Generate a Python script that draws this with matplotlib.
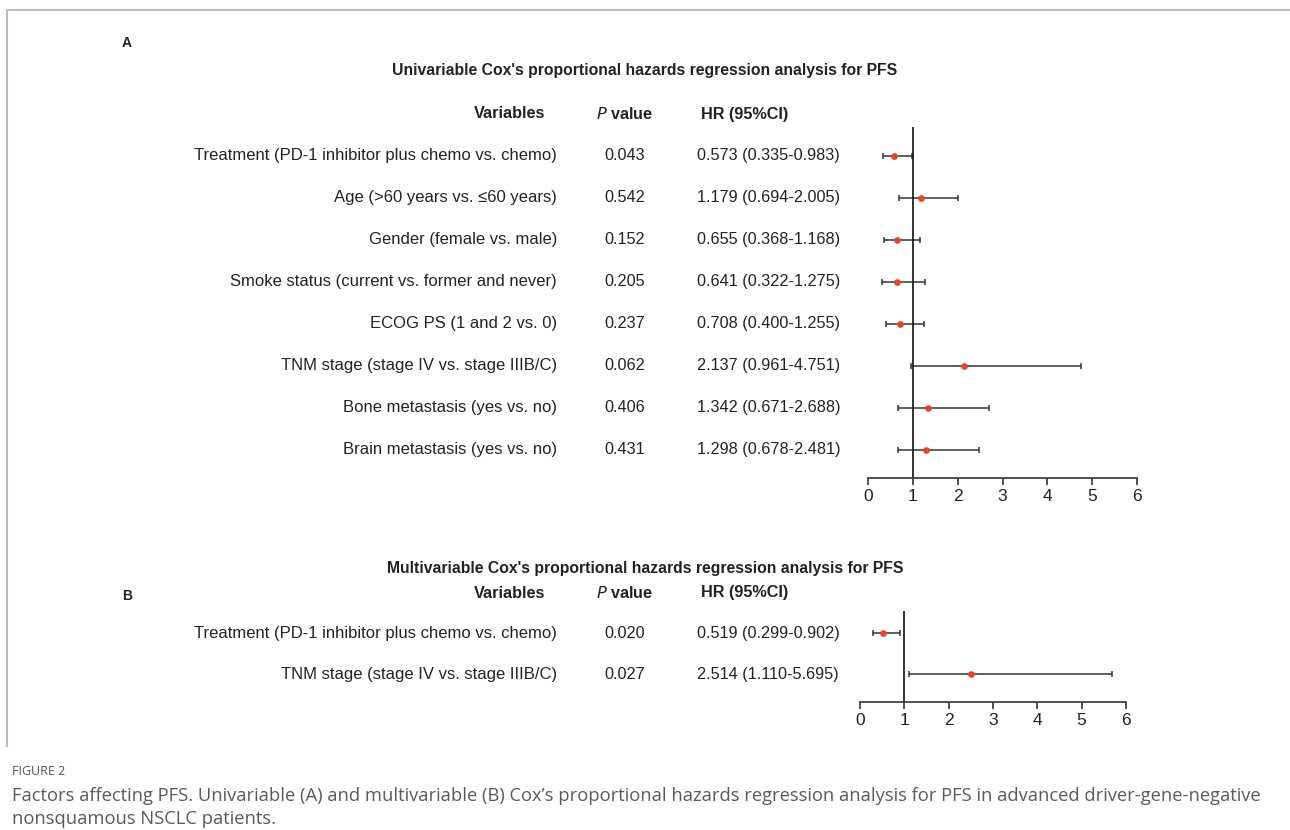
import matplotlib
matplotlib.use("Agg")
import matplotlib.pyplot as plt
import matplotlib.transforms as mtransforms
from matplotlib.lines import Line2D

# Data
uni_vars = ["Treatment (PD-1 inhibitor plus chemo vs. chemo)",
            "Age (>60 years vs. \u226460 years)",
            "Gender (female vs. male)",
            "Smoke status (current vs. former and never)",
            "ECOG PS (1 and 2 vs. 0)",
            "TNM stage (stage IV vs. stage IIIB/C)",
            "Bone metastasis (yes vs. no)",
            "Brain metastasis (yes vs. no)"]
uni_p = ["0.043", "0.542", "0.152", "0.205", "0.237", "0.062", "0.406", "0.431"]
uni_hr = [0.573, 1.179, 0.655, 0.641, 0.708, 2.137, 1.342, 1.298]
uni_lo = [0.335, 0.694, 0.368, 0.322, 0.400, 0.961, 0.671, 0.678]
uni_hi = [0.983, 2.005, 1.168, 1.275, 1.255, 4.751, 2.688, 2.481]

multi_vars = ["Treatment (PD-1 inhibitor plus chemo vs. chemo)",
              "TNM stage (stage IV vs. stage IIIB/C)"]
multi_p = ["0.020", "0.027"]
multi_hr = [0.519, 2.514]
multi_lo = [0.299, 1.110]
multi_hi = [0.902, 5.695]

xticks = [0, 1, 2, 3, 4, 5, 6]

W, H = 1290, 830
fig = plt.figure(figsize=(W / 100, H / 100), dpi=100)

def fx(px):
    return px / W

def fy(py):
    return 1 - py / H

txt = "#222222"
line_col = "#333333"
dot_col = "#e8412c"
font = "Liberation Sans"

def forest(left, right, top, bottom, ylim, names, pvals, hr, lo, hi,
           title, letter, title_y, header_y, letter_y):
    ax = fig.add_axes([fx(left), fy(bottom), fx(right - left), (bottom - top) / H])
    n = len(names)
    ys = list(range(n, 0, -1))
    xerr = [[h - l for h, l in zip(hr, lo)], [u - h for h, u in zip(hr, hi)]]
    ax.errorbar(hr, ys, xerr=xerr, fmt="none", ecolor=line_col, elinewidth=1.1,
                capsize=2.3, capthick=1.1)
    ax.plot(hr, ys, "o", color=dot_col, markersize=3.8, zorder=3)
    ax.axvline(1, color="#111111", lw=1.2)
    ax.set_xlim(0, 6)
    ax.set_ylim(*ylim)
    for s in ["left", "right", "top"]:
        ax.spines[s].set_visible(False)
    ax.spines["bottom"].set_color(line_col)
    ax.spines["bottom"].set_linewidth(1.2)
    ax.set_yticks([])
    ax.set_xticks(xticks)
    ax.tick_params(axis="x", direction="out", length=5, width=1.2, color=line_col,
                   labelsize=12.5, labelcolor=txt, pad=3)
    for lab in ax.get_xticklabels():
        lab.set_fontfamily(font)
    ax.patch.set_alpha(0)

    # rows follow the data y positions of the forest axes
    tr = mtransforms.blended_transform_factory(fig.transFigure, ax.transData)
    for y, name, p, h, l, u in zip(ys, names, pvals, hr, lo, hi):
        fig.text(fx(557), y, name, transform=tr, ha="right", va="center",
                 fontsize=12, color=txt, family=font)
        fig.text(fx(625), y, p, transform=tr, ha="center", va="center",
                 fontsize=11.7, color=txt, family=font)
        fig.text(fx(697), y, "%.3f (%.3f-%.3f)" % (h, l, u), transform=tr,
                 ha="left", va="center", fontsize=11.7, color=txt, family=font)

    fig.text(fx(645), fy(title_y), title, ha="center", va="center",
             fontsize=11.3, fontweight="bold", color=txt, family=font)
    fig.text(fx(545), fy(header_y), "Variables", ha="right", va="center",
             fontsize=11.7, fontweight="bold", color=txt, family=font)
    fig.text(fx(625), fy(header_y), r"$\bf{\it{P}}$ value", ha="center", va="center",
             fontsize=11.7, fontweight="bold", color=txt, family=font)
    fig.text(fx(745), fy(header_y), "HR (95%CI)", ha="center", va="center",
             fontsize=11.7, fontweight="bold", color=txt, family=font)
    fig.text(fx(122), fy(letter_y), letter, ha="left", va="center",
             fontsize=10, fontweight="bold", color=txt, family=font)
    return ax

forest(868, 1137, 127, 478, (0.333, 8.69), uni_vars, uni_p, uni_hr, uni_lo, uni_hi,
       "Univariable Cox's proportional hazards regression analysis for PFS", "A",
       71, 114, 43)
forest(860, 1126, 611, 702, (0.317, 2.54), multi_vars, multi_p, multi_hr, multi_lo,
       multi_hi, "Multivariable Cox's proportional hazards regression analysis for PFS",
       "B", 568, 593, 596)

# frame lines of the figure box
fig.add_artist(Line2D([fx(7), 1], [fy(10), fy(10)], color="#bbbbbb", lw=1.5))
fig.add_artist(Line2D([fx(7), fx(7)], [fy(10), fy(746)], color="#bbbbbb", lw=1.5))

# caption
fig.text(fx(12), fy(771), "FIGURE 2", ha="left", va="center", fontsize=9,
         color="#555555", family="Open Sans")
fig.text(fx(12), fy(796),
         "Factors affecting PFS. Univariable (A) and multivariable (B) Cox\u2019s proportional "
         "hazards regression analysis for PFS in advanced driver-gene-negative",
         ha="left", va="center", fontsize=13.25, color="#5a5a5a", family="Open Sans")
fig.text(fx(12), fy(819), "nonsquamous NSCLC patients.", ha="left", va="center",
         fontsize=13.25, color="#5a5a5a", family="Open Sans")

fig.savefig("out.png", dpi=100)
